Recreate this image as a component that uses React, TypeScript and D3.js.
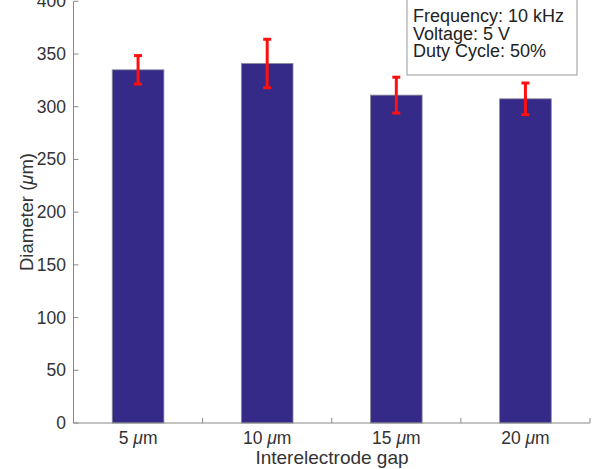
import React from "react";
import * as d3 from "d3";

const categories = ["5", "10", "15", "20"];
const diameters = [335, 341, 311, 307.5];
const errors = [13.5, 23, 17, 15];
const yTicks = [0, 50, 100, 150, 200, 250, 300, 350, 400];
const legendLines = ["Frequency: 10 kHz", "Voltage: 5 V", "Duty Cycle: 50%"];

const W = 595;
const H = 469;
const FONT = "'Liberation Sans', Arial, Helvetica, sans-serif";

export default function App() {
  const x = d3
    .scaleBand<string>()
    .domain(categories)
    .range([73.5, 590])
    .paddingInner(0.6)
    .paddingOuter(0.3);
  const y = d3.scaleLinear().domain([0, 400]).range([423, 1.3]);
  const step = x.step();
  const x0 = 73.5;
  const boundaries = categories.map((_, i) => x0 + step * (i + 1));

  return (
    <svg
      width={W}
      height={H}
      style={{ position: "absolute", left: 0, top: 0, background: "#fff" }}
      fontFamily={FONT}
    >
      {/* bars */}
      {categories.map((c, i) => (
        <rect
          key={"b" + c}
          x={x(c)!}
          y={y(diameters[i])}
          width={x.bandwidth()}
          height={y(0) - y(diameters[i])}
          fill="#352a87"
          stroke="#8a8a9a"
          strokeWidth={0.8}
        />
      ))}
      {/* error bars */}
      {categories.map((c, i) => {
        const cx = x(c)! + x.bandwidth() / 2;
        const top = y(diameters[i] + errors[i]);
        const bot = y(diameters[i] - errors[i]);
        return (
          <g key={"e" + c} stroke="#ff1010" strokeWidth={3}>
            <line x1={cx} x2={cx} y1={top} y2={bot} />
            <line x1={cx - 4} x2={cx + 4} y1={top} y2={top} />
            <line x1={cx - 4} x2={cx + 4} y1={bot} y2={bot} />
          </g>
        );
      })}
      {/* y axis */}
      <line x1={73.5} x2={73.5} y1={y(400)} y2={y(0)} stroke="#888" strokeWidth={1} />
      {yTicks.map((t) => (
        <g key={"yt" + t}>
          <line x1={73.5} x2={78.5} y1={y(t)} y2={y(t)} stroke="#888" strokeWidth={1} />
          <text
            x={66}
            y={y(t)}
            textAnchor="end"
            dominantBaseline="central"
            fontSize={17.5}
            fill="#333"
          >
            {t}
          </text>
        </g>
      ))}
      {/* x axis */}
      <line x1={73.5} x2={590} y1={y(0)} y2={y(0)} stroke="#888" strokeWidth={1} />
      {boundaries.map((bx, i) => (
        <line
          key={"xt" + i}
          x1={bx}
          x2={bx}
          y1={y(0)}
          y2={y(0) - 5}
          stroke="#888"
          strokeWidth={1}
        />
      ))}
      {categories.map((c) => (
        <text
          key={"xl" + c}
          x={x(c)! + x.bandwidth() / 2}
          y={444}
          textAnchor="middle"
          fontSize={17.5}
          fill="#333"
        >
          {c + " "}
          <tspan fontStyle="italic">μ</tspan>
          m
        </text>
      ))}
      <text x={332} y={464} textAnchor="middle" fontSize={19} fill="#333">
        Interelectrode gap
      </text>
      <text
        transform="translate(26,212) rotate(-90)"
        textAnchor="middle"
        dominantBaseline="central"
        fontSize={18.5}
        fill="#333"
      >
        Diameter (<tspan fontStyle="italic">μ</tspan>m)
      </text>
      {/* legend box */}
      <rect x={407} y={-2} width={170} height={77} fill="#fff" stroke="#999" strokeWidth={1} />
      {legendLines.map((l, i) => (
        <text key={"lg" + i} x={413} y={22.3 + i * 17.5} fontSize={18} fill="#222">
          {l}
        </text>
      ))}
    </svg>
  );
}
